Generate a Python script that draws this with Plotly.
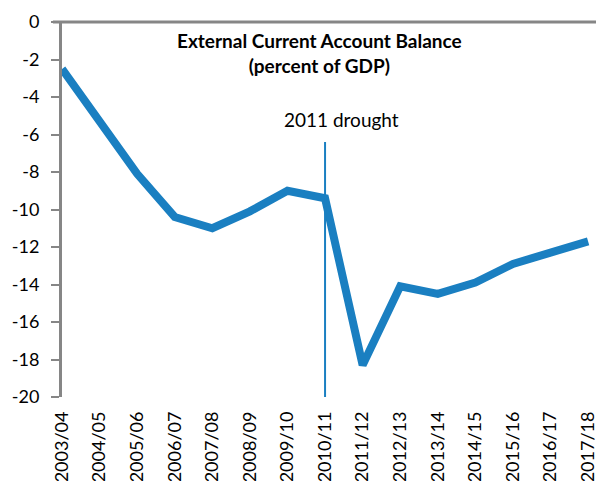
import plotly.graph_objects as go

# Fiscal years and external current account balance (% of GDP)
years = ["2003/04", "2004/05", "2005/06", "2006/07", "2007/08", "2008/09",
         "2009/10", "2010/11", "2011/12", "2012/13", "2013/14", "2014/15",
         "2015/16", "2016/17", "2017/18"]
balance = [-2.5, -5.3, -8.1, -10.4, -11.0, -10.1, -9.0, -9.4, -18.3,
           -14.1, -14.5, -13.9, -12.9, -12.3, -11.7]

y_ticks = list(range(0, -21, -2))
y_tick_text = [str(v) for v in y_ticks]  # plain hyphen minus signs
drought_year = "2010/11"
drought_top = -6.4

BLUE = "#1a7fc1"
GREY = "rgb(134,134,134)"
FONT = "Lato"

x_idx = list(range(len(years)))
x_range = [0, len(years) - 1 + 0.21]
y_range = [-20, 0]

fig = go.Figure()
fig.add_trace(go.Scatter(
    x=x_idx, y=balance, mode="lines",
    line=dict(color=BLUE, width=8, shape="linear"),
    hoverinfo="skip", showlegend=False,
))

di = years.index(drought_year)
# vertical marker for the drought year
fig.add_shape(type="line", x0=di, x1=di, y0=-20, y1=drought_top,
              line=dict(color=BLUE, width=2), layer="above")
# category axis line crossing at zero, along the top edge of the plot
fig.add_shape(type="line", xref="paper", yref="paper", x0=-0.017, x1=1, y0=1, y1=1,
              line=dict(color=GREY, width=3), layer="above")

fig.add_annotation(text="<b>External Current Account Balance</b><br><b>(percent of GDP)</b>",
                   xref="paper", yref="paper", x=0.483, y=0.986,
                   xanchor="center", yanchor="top", showarrow=False,
                   font=dict(family=FONT, size=19, color="#000000"),
                   align="center")
fig.add_annotation(text="2011 drought", x=di + 0.45, y=drought_top + 0.5,
                   xanchor="center", yanchor="bottom", showarrow=False,
                   font=dict(family=FONT, size=19, color="#000000"))

fig.update_layout(
    template="none",
    width=596, height=481,
    margin=dict(l=62, r=0, t=22, b=84),
    paper_bgcolor="white", plot_bgcolor="white",
    font=dict(family=FONT, color="#000000"),
    showlegend=False,
)
fig.update_xaxes(
    range=x_range,
    tickmode="array", tickvals=x_idx, ticktext=years,
    tickangle=-90, tickfont=dict(family=FONT, size=18, color="#000000"),
    showgrid=False, zeroline=False, showline=False, ticks="",
    ticklabelstandoff=10, ticklabeloverflow="allow", automargin=False,
)
fig.update_yaxes(
    range=y_range,
    tickmode="array", tickvals=y_ticks, ticktext=y_tick_text,
    tickfont=dict(family=FONT, size=18, color="#000000"),
    showgrid=False, zeroline=False,
    showline=True, linecolor=GREY, linewidth=3,
    ticks="outside", ticklen=8, tickwidth=2, tickcolor=GREY,
    ticklabelstandoff=8, automargin=False,
)

fig.write_html("out.html")
